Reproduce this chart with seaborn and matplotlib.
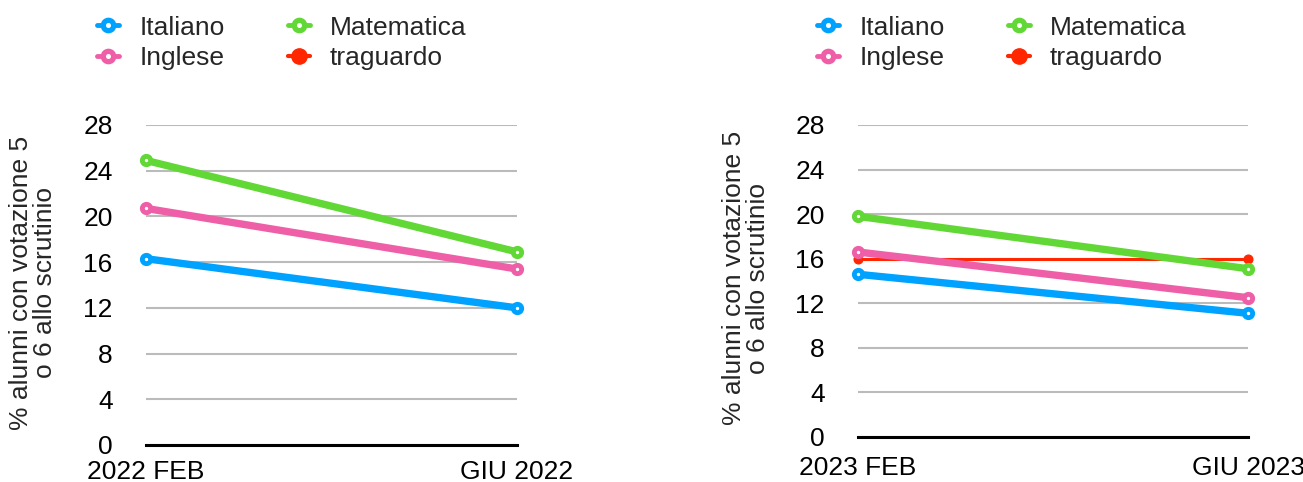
import matplotlib
matplotlib.use('Agg')
import matplotlib.pyplot as plt
from matplotlib.lines import Line2D
import seaborn as sns
import pandas as pd

# Dati
periodi_2022 = ['2022 FEB', 'GIU 2022']
periodi_2023 = ['2023 FEB', 'GIU 2023']
italiano_2022 = [16.3, 12.0]
inglese_2022 = [20.7, 15.4]
matematica_2022 = [24.9, 16.9]
italiano_2023 = [14.6, 11.1]
inglese_2023 = [16.6, 12.5]
matematica_2023 = [19.8, 15.1]
traguardo_2023 = [16.0, 16.0]
y_ticks = [0, 4, 8, 12, 16, 20, 24, 28]

colori = {'Italiano': '#00A2FF', 'Inglese': '#EF5FA7',
          'Matematica': '#61D836', 'traguardo': '#FF2600'}
ylabel = '% alunni con votazione 5\no 6 allo scrutinio'

sns.set_theme(style='white')
plt.rcParams['font.family'] = ['Liberation Sans', 'DejaVu Sans']
FS = 19

fig = plt.figure(figsize=(13.03, 4.82), dpi=100)


def draw_panel(ax, periodi, series):
    for name, vals in series:
        df = pd.DataFrame({'periodo': periodi, 'valore': vals})
        if name == 'traguardo':
            sns.lineplot(data=df, x='periodo', y='valore', ax=ax, color=colori[name],
                         lw=2.2, marker='o', ms=6.5, mec=colori[name], mfc=colori[name],
                         clip_on=False, zorder=3)
        else:
            sns.lineplot(data=df, x='periodo', y='valore', ax=ax, color=colori[name],
                         lw=5.3, marker='o', ms=6, mew=3.5, mec=colori[name], mfc='white',
                         clip_on=False, zorder=4)
    ax.set_xlim(0, 1)
    ax.set_ylim(0, 28)
    ax.set_yticks(y_ticks)
    ax.yaxis.grid(True, color='#BBBBBB', lw=1.5)
    ax.set_axisbelow(True)
    for s in ['top', 'right', 'left']:
        ax.spines[s].set_visible(False)
    ax.spines['bottom'].set_color('black')
    ax.spines['bottom'].set_linewidth(2.2)
    ax.spines['bottom'].set_zorder(2)
    ax.tick_params(axis='y', length=0, pad=24, labelsize=FS, labelcolor='black')
    ax.tick_params(axis='x', length=0, labelsize=FS, labelcolor='black')
    ax.set_xlabel('')
    ax.set_ylabel('')


def legend_handles():
    hs = []
    for name in ['Italiano', 'Inglese', 'Matematica', 'traguardo']:
        if name == 'traguardo':
            hs.append(Line2D([], [], color=colori[name], lw=3, marker='o', ms=11,
                             mfc=colori[name], mec=colori[name]))
        else:
            hs.append(Line2D([], [], color=colori[name], lw=3.5, marker='o', ms=7.5,
                             mew=3.8, mec=colori[name], mfc='white'))
    return hs, ['Italiano', 'Inglese', 'Matematica', 'traguardo']


ax1 = fig.add_axes([0.1120, 0.0768, 0.2847, 0.6639])
draw_panel(ax1, periodi_2022, [('Italiano', italiano_2022), ('Inglese', inglese_2022),
                               ('Matematica', matematica_2022)])
ax1.tick_params(axis='x', pad=11)

ax2 = fig.add_axes([0.6585, 0.0934, 0.2993, 0.6473])
draw_panel(ax2, periodi_2023, [('traguardo', traguardo_2023), ('Italiano', italiano_2023),
                               ('Inglese', inglese_2023), ('Matematica', matematica_2023)])
ax2.tick_params(axis='x', pad=14)

fig.text(33 / 1303, 1 - 283 / 482, ylabel, rotation=90, ha='center', va='center',
         fontsize=FS, linespacing=1.0)
fig.text(746 / 1303, 1 - 278 / 482, ylabel, rotation=90, ha='center', va='center',
         fontsize=FS, linespacing=1.0)

for x0 in [97 / 1303, 817 / 1303]:
    hs, ls = legend_handles()
    fig.legend(hs, ls, ncol=2, loc='center left', bbox_to_anchor=(x0, 1 - 43 / 482),
               frameon=False, fontsize=FS, handlelength=0.85, handletextpad=0.75,
               columnspacing=2.4, labelspacing=0.25, borderpad=0, borderaxespad=0)

fig.savefig('out.png', dpi=100)
